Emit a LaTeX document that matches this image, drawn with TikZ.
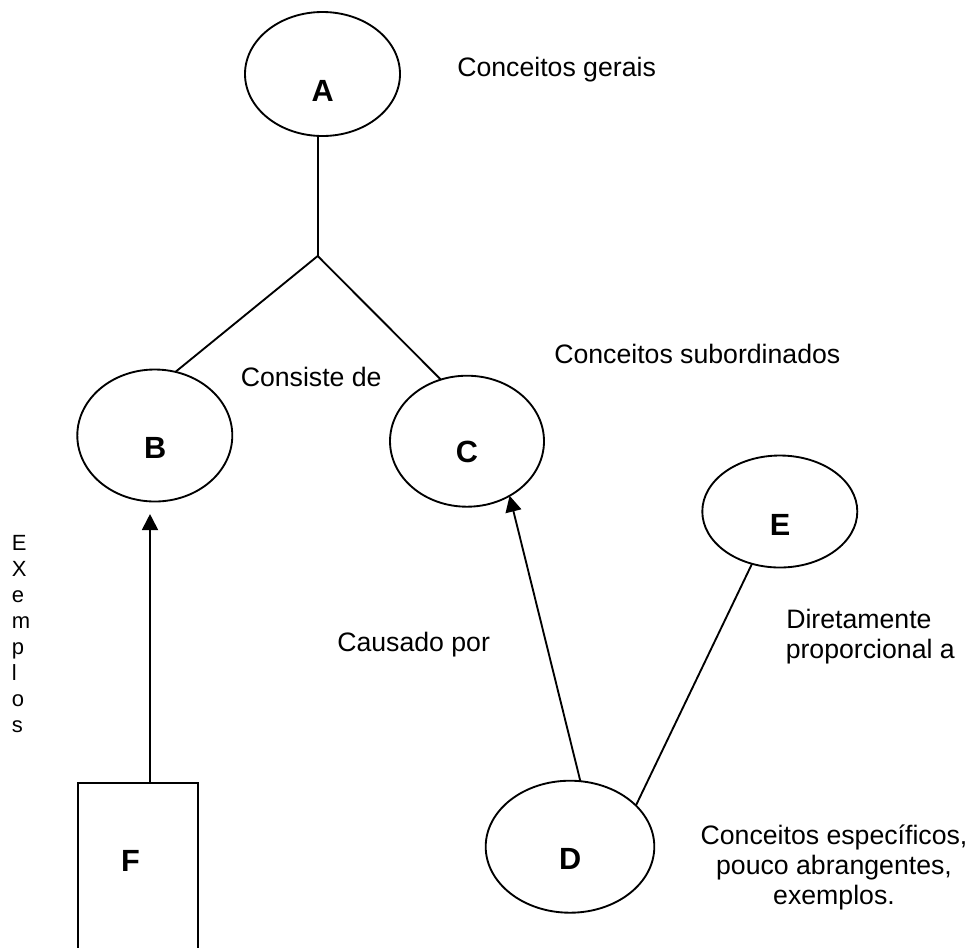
\documentclass[tikz,border=0pt]{standalone}
\usepackage{fontspec}
\setmainfont{Liberation Sans}
\usetikzlibrary{arrows.meta,shapes.geometric}
\begin{document}
\begin{tikzpicture}[x=0.75pt,y=-0.75pt,
  conc/.style={ellipse,draw,line width=1.4pt,inner sep=0pt,outer sep=0pt},
  box/.style={rectangle,draw,line width=1.4pt,inner sep=0pt,outer sep=0pt},
  letter/.style={font=\fontsize{23}{27}\selectfont\bfseries,inner sep=0pt,anchor=base},
  txt/.style={font=\fontsize{20}{23}\selectfont,inner sep=0pt,anchor=base west},
  ctxt/.style={font=\fontsize{20}{23}\selectfont,inner sep=0pt,anchor=base},
  link/.style={line width=1.4pt},
  arr/.style={line width=1.4pt,-{Triangle[length=12pt,width=12pt]}}]
\useasboundingbox (0,0) rectangle (969,947);
\clip (0,0) rectangle (969,947);

% concept shapes
\node[conc,minimum width=116.25pt,minimum height=93pt] (A) at (322.5,74) {};
\node[conc,minimum width=116.25pt,minimum height=99pt] (B) at (154.8,435.5) {};
\node[conc,minimum width=115.5pt,minimum height=98.25pt] (C) at (467,441.2) {};
\node[conc,minimum width=126.45pt,minimum height=99pt] (D) at (570,846.7) {};
\node[conc,minimum width=116.25pt,minimum height=84pt] (E) at (779.8,511.5) {};
\node[box,minimum width=90.45pt,minimum height=162.5pt] (F) at (138,891.65) {};

% letters
\node[letter] (At) at (322.8,101.7) {A};
\node[letter] (Bt) at (155.2,458.3) {B};
\node[letter] (Ct) at (467,462.7) {C};
\node[letter] (Dt) at (570.3,869.3) {D};
\node[letter] (Et) at (780,535) {E};
\node[letter] (Ft) at (130.5,871.7) {F};

% connectors
\coordinate (apex) at (317.7,256);
\draw[link] (A.south -| apex) -- (apex);
\draw[link] (apex) -- (B.72.7);
\draw[link] (apex) -- (C.113.5);
\draw[arr] ([xshift=9pt]F.north) -- ([xshift=-3.6pt,yshift=-9.4pt]B.south);
\draw[arr] (D.81.3) -- (C.-52.5);
\draw[link] (E.242) -- (D.32.2);

% texts
\node[txt] (gerais) at (457,76.7) {Conceitos gerais};
\node[txt] (subord) at (554,363.3) {Conceitos subordinados};
\node[txt] (consiste) at (240.5,386.7) {Consiste de};
\node[txt] (causado) at (337,651.7) {Causado por};
\node[txt] (dir1) at (786,628) {Diretamente};
\node[txt] (dir2) at (785.5,658) {proporcional a};
\node[ctxt] (esp1) at (834,844) {Conceitos específicos,};
\node[ctxt] (esp2) at (834,874) {pouco abrangentes,};
\node[ctxt] (esp3) at (834,904) {exemplos.};
\node[font=\fontsize{16.5}{19.5}\selectfont,align=left,anchor=north west,inner sep=0pt] (exemplos) at (11.6,535) {E\\X\\e\\m\\p\\l\\o\\s};
\end{tikzpicture}
\end{document}
